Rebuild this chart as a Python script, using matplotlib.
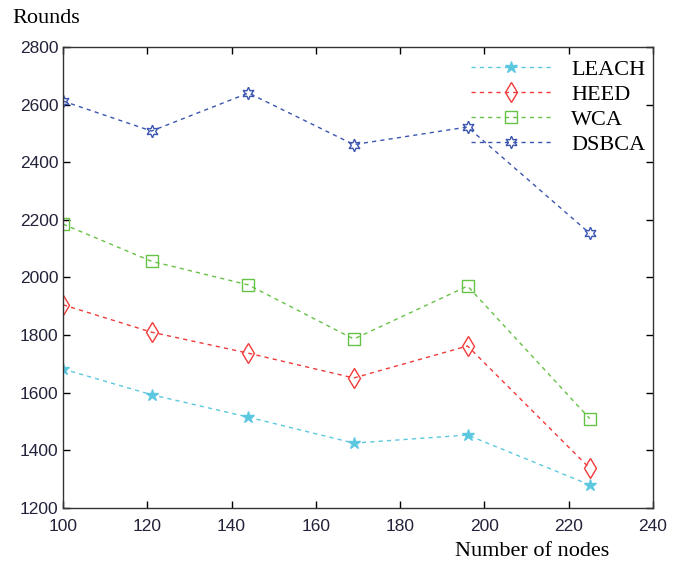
import matplotlib
matplotlib.use("Agg")
import matplotlib.pyplot as plt

nodes = [100, 121, 144, 169, 196, 225]
leach = [1682, 1593, 1515, 1425, 1453, 1280]
heed = [1905, 1810, 1737, 1651, 1762, 1338]
wca = [2185, 2056, 1974, 1786, 1970, 1510]
dsbca = [2612, 2508, 2640, 2461, 2522, 2153]

x_ticks = [100, 120, 140, 160, 180, 200, 220, 240]
y_ticks = [1200, 1400, 1600, 1800, 2000, 2200, 2400, 2600, 2800]

fig = plt.figure(figsize=(6.78, 5.72), dpi=100)
ax = fig.add_axes([0.093, 0.112, 0.870, 0.806])

ls = (0, (3, 3))
ax.plot(nodes, leach, linestyle=ls, color='#5cc8e0', marker='*', markersize=9,
        markerfacecolor='#5cc8e0', markeredgecolor='#5cc8e0', lw=1, label='LEACH')
ax.plot(nodes, heed, linestyle=ls, color='#f03a3a', marker='d', markersize=10,
        markerfacecolor='none', markeredgecolor='#f03a3a', lw=1, label='HEED')
ax.plot(nodes, wca, linestyle=ls, color='#66c244', marker='s', markersize=9,
        markerfacecolor='none', markeredgecolor='#66c244', lw=1, label='WCA')
ax.plot(nodes, dsbca, linestyle=ls, color='#3b55b0', marker=(6, 1, 0), markersize=9,
        markerfacecolor='none', markeredgecolor='#3b55b0', lw=1, label='DSBCA')

ax.set_xlim(100, 240)
ax.set_ylim(1200, 2800)
ax.set_xticks(x_ticks)
ax.set_yticks(y_ticks)
ax.tick_params(direction='in', top=True, right=True, length=5, width=1, colors='black',
               labelcolor='#22223a', labelsize=12.5)
ax.tick_params(axis='x', pad=8)
for lab in ax.get_xticklabels() + ax.get_yticklabels():
    lab.set_family('Liberation Sans')
for s in ax.spines.values():
    s.set_linewidth(1)
    s.set_color('#333333')

fig.text(0.018, 0.968, 'Rounds', family='Liberation Serif', fontsize=16, va='center', ha='left')
fig.text(0.671, 0.035, 'Number of nodes', family='Liberation Serif', fontsize=16, va='center', ha='left')

leg = ax.legend(loc='upper right', bbox_to_anchor=(1.008, 1.0), frameon=False,
                prop={'family': 'Liberation Serif', 'size': 16},
                handlelength=3.6, labelspacing=0.2, borderaxespad=0.0, handletextpad=0.9,
                borderpad=0.55, markerfirst=True)

fig.savefig('out.png', dpi=100)
